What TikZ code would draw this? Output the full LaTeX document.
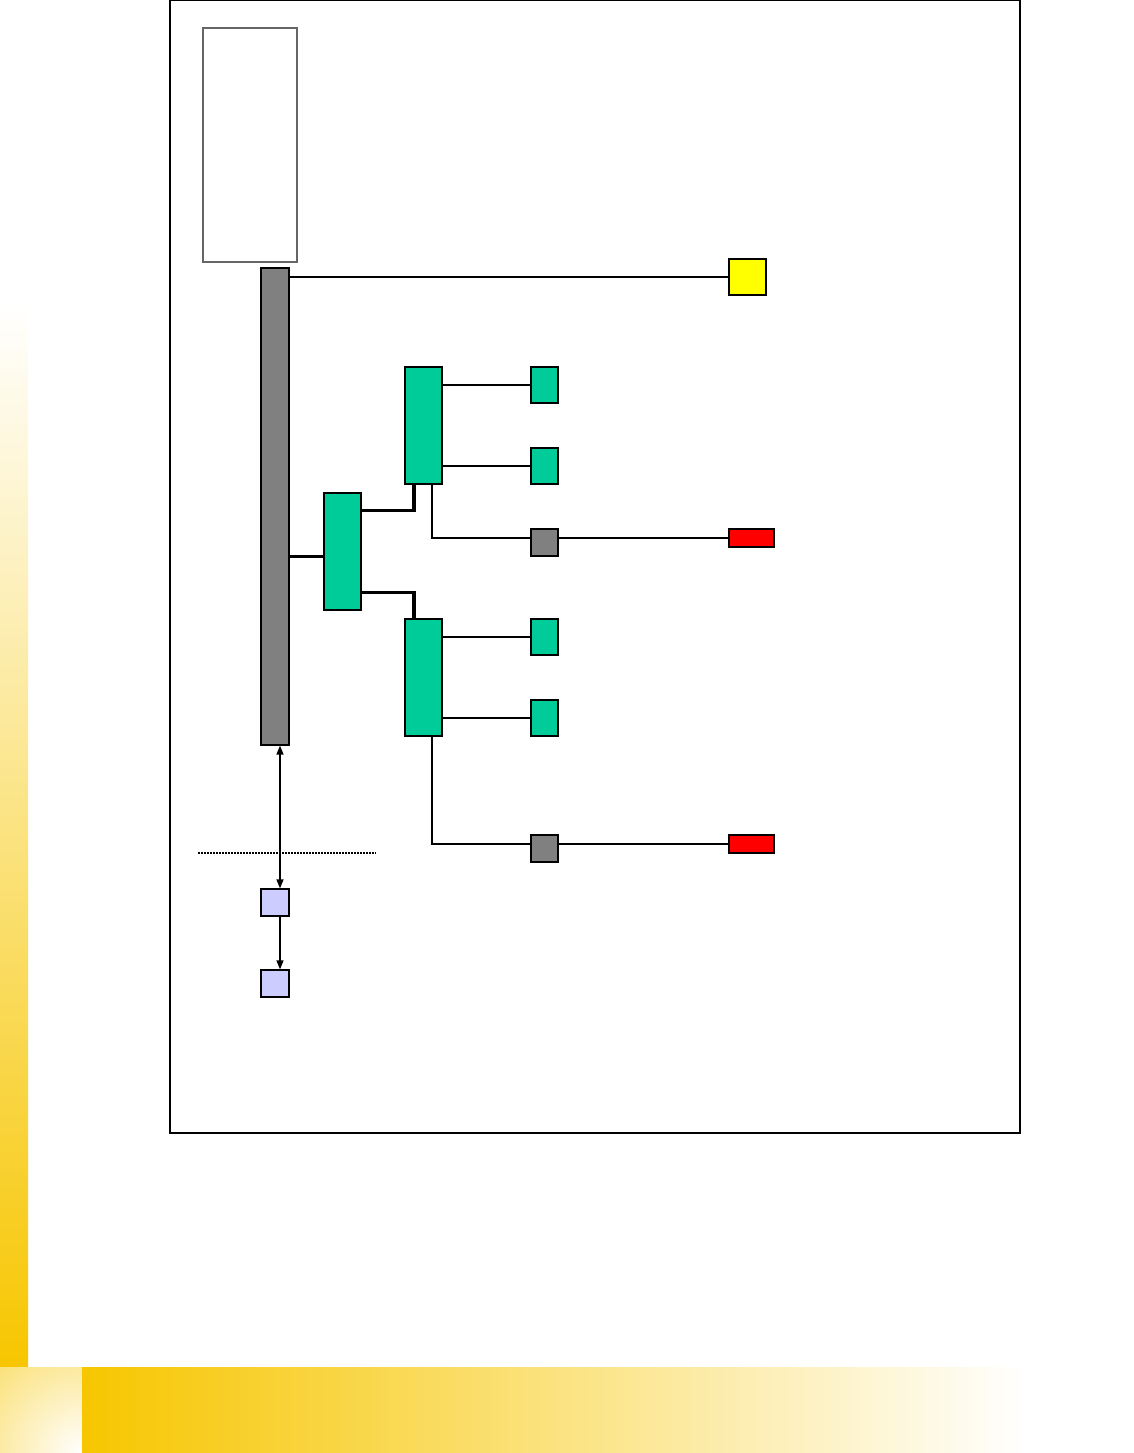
\documentclass[tikz,border=0pt]{standalone}
\usepackage{tikz}
\usetikzlibrary{arrows.meta}
\definecolor{gold}{RGB}{247,198,0}
\definecolor{teal}{RGB}{0,204,153}
\definecolor{lav}{RGB}{204,204,255}
\definecolor{lemon}{RGB}{255,255,0}

\begin{document}
\begin{tikzpicture}[x=1pt, y=-1pt,
  box/.style={draw, line width=1.2pt, inner sep=0pt},
  bold/.style={line width=3.2pt},
  wire/.style={line width=1.3pt},
  tip/.style={-{Triangle[length=9pt,width=7pt]}},
  tips/.style={{Triangle[length=9pt,width=7pt]}-{Triangle[length=9pt,width=7pt]}}]
\useasboundingbox (0,0) rectangle (1134,1453);
% page decoration
\shade[top color=white, bottom color=gold] (0,303) rectangle (28,1367);
\begin{scope}
  \clip (0,1367) rectangle (82,1453);
  \shade[inner color=white, outer color=gold] (82,1453) circle (230);
\end{scope}
\shade[left color=gold, right color=white] (82,1367) rectangle (1030,1453);
\draw[line width=1.2pt] (170,0.8) rectangle (1020,1133);

% boxes
\node[box, draw=black!60, fill=white, minimum width=94pt, minimum height=234pt] (note) at (250,145) {};
\node[box, fill=gray, minimum width=28pt, minimum height=477pt] (bus) at (275,506.5) {};
\node[box, fill=lemon, minimum width=37pt, minimum height=36pt] (yel) at (747.5,277) {};
\node[box, fill=teal, minimum width=37pt, minimum height=117pt] (mid) at (342.5,551.5) {};
\node[box, fill=teal, minimum width=37pt, minimum height=117pt] (ug) at (423.5,425.5) {};
\node[box, fill=teal, minimum width=37pt, minimum height=117pt] (lg) at (423.5,677.5) {};
\foreach \n/\y in {sg1/385,sg2/466,sg3/637,sg4/718}
  \node[box, fill=teal, minimum width=27pt, minimum height=36pt] (\n) at (544.5,\y) {};
\foreach \n/\y in {gs1/542.5,gs2/848.5}
  \node[box, fill=gray, minimum width=27pt, minimum height=27pt] (\n) at (544.5,\y) {};
\foreach \n/\y in {rd1/538,rd2/844}
  \node[box, fill=red, minimum width=45pt, minimum height=18pt] (\n) at (751.5,\y) {};
\node[box, fill=lav, minimum width=28pt, minimum height=27pt] (lav1) at (275,902.5) {};
\node[box, fill=lav, minimum width=28pt, minimum height=27pt] (lav2) at (275,983.5) {};
\coordinate (sepL) at (198,853);
\coordinate (sepR) at (376,853);

% connectors
\draw[wire] (yel.west -| bus.east) -- (yel.west);
\draw[bold] ([yshift=-5pt]mid.west -| bus.east) -- ([yshift=-5pt]mid.west);
\draw[bold] ([yshift=-18pt]mid.north east) -| ([xshift=-9.5pt]ug.south);
\draw[bold] ([yshift=18pt]mid.south east) -| ([xshift=-9.5pt]lg.north);
\foreach \g/\s in {ug/sg1,ug/sg2,lg/sg3,lg/sg4}
  \draw[wire] (\s.west -| \g.east) -- (\s.west);
\draw[wire] ([xshift=8.5pt]ug.south) |- ([yshift=4.5pt]gs1.west);
\draw[wire] ([xshift=8.5pt]lg.south) |- ([yshift=4.5pt]gs2.west);
\draw[wire] (rd1.west -| gs1.east) -- (rd1.west);
\draw[wire] (rd2.west -| gs2.east) -- (rd2.west);
\draw[wire, tips] ([xshift=5pt]bus.south) -- ([xshift=5pt]lav1.north);
\draw[wire, tip] ([xshift=5pt]lav1.south) -- ([xshift=5pt]lav2.north);
\draw[line width=1.2pt, dash pattern=on 1.5pt off 1.5pt] (sepL) -- (sepR);
\end{tikzpicture}
\end{document}
